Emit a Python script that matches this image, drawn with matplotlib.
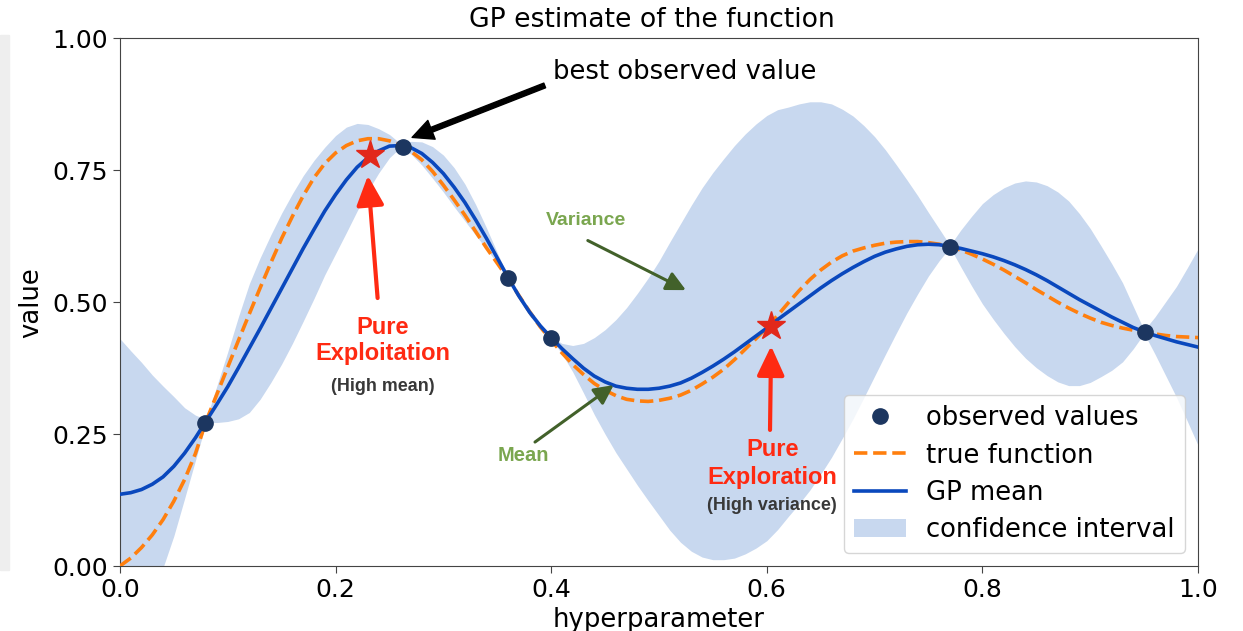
import matplotlib
matplotlib.use("Agg")
import matplotlib.pyplot as plt
from matplotlib.patches import Patch, Rectangle
from matplotlib.lines import Line2D
import numpy as np

# ---------------- data ----------------
x_grid = [0.00, 0.01, 0.02, 0.03, 0.04, 0.05, 0.06, 0.07, 0.08, 0.09,
          0.10, 0.11, 0.12, 0.13, 0.14, 0.15, 0.16, 0.17, 0.18, 0.19,
          0.20, 0.21, 0.22, 0.23, 0.24, 0.25, 0.26, 0.27, 0.28, 0.29,
          0.30, 0.31, 0.32, 0.33, 0.34, 0.35, 0.36, 0.37, 0.38, 0.39,
          0.40, 0.41, 0.42, 0.43, 0.44, 0.45, 0.46, 0.47, 0.48, 0.49,
          0.50, 0.51, 0.52, 0.53, 0.54, 0.55, 0.56, 0.57, 0.58, 0.59,
          0.60, 0.61, 0.62, 0.63, 0.64, 0.65, 0.66, 0.67, 0.68, 0.69,
          0.70, 0.71, 0.72, 0.73, 0.74, 0.75, 0.76, 0.77, 0.78, 0.79,
          0.80, 0.81, 0.82, 0.83, 0.84, 0.85, 0.86, 0.87, 0.88, 0.89,
          0.90, 0.91, 0.92, 0.93, 0.94, 0.95, 0.96, 0.97, 0.98, 0.99,
          1.00]

gp_mean = [0.136, 0.139, 0.145, 0.155, 0.169, 0.189, 0.214, 0.243, 0.275, 0.307,
           0.340, 0.376, 0.413, 0.450, 0.488, 0.526, 0.564, 0.602, 0.638, 0.673,
           0.704, 0.732, 0.756, 0.774, 0.787, 0.796, 0.797, 0.793, 0.782, 0.765,
           0.744, 0.718, 0.689, 0.656, 0.621, 0.584, 0.547, 0.512, 0.481, 0.455,
           0.433, 0.412, 0.393, 0.375, 0.360, 0.349, 0.341, 0.337, 0.335, 0.335,
           0.337, 0.341, 0.347, 0.356, 0.367, 0.379, 0.392, 0.406, 0.421, 0.436,
           0.451, 0.467, 0.482, 0.497, 0.512, 0.527, 0.541, 0.554, 0.566, 0.577,
           0.587, 0.595, 0.601, 0.606, 0.609, 0.610, 0.609, 0.606, 0.602, 0.597,
           0.592, 0.586, 0.579, 0.571, 0.562, 0.552, 0.541, 0.529, 0.517, 0.505,
           0.494, 0.483, 0.472, 0.462, 0.452, 0.444, 0.437, 0.431, 0.425, 0.420,
           0.415]

true_func = [0.000, 0.015, 0.035, 0.059, 0.088, 0.123, 0.164, 0.213, 0.275, 0.326,
             0.377, 0.428, 0.478, 0.527, 0.575, 0.621, 0.663, 0.702, 0.736, 0.763,
             0.783, 0.797, 0.806, 0.810, 0.810, 0.806, 0.798, 0.786, 0.770, 0.748,
             0.722, 0.694, 0.665, 0.634, 0.603, 0.574, 0.545, 0.513, 0.482, 0.453,
             0.428, 0.404, 0.382, 0.363, 0.346, 0.333, 0.323, 0.316, 0.313, 0.312,
             0.314, 0.318, 0.324, 0.333, 0.345, 0.358, 0.373, 0.391, 0.411, 0.431,
             0.452, 0.475, 0.499, 0.522, 0.543, 0.561, 0.576, 0.588, 0.597, 0.603,
             0.608, 0.612, 0.614, 0.615, 0.615, 0.613, 0.610, 0.605, 0.599, 0.591,
             0.582, 0.572, 0.561, 0.549, 0.537, 0.524, 0.512, 0.500, 0.489, 0.479,
             0.470, 0.462, 0.456, 0.451, 0.447, 0.443, 0.440, 0.437, 0.435, 0.434,
             0.433]

half_width = [0.295, 0.269, 0.241, 0.207, 0.172, 0.132, 0.086, 0.043, 0.003, 0.035,
              0.066, 0.097, 0.122, 0.134, 0.140, 0.143, 0.142, 0.138, 0.131, 0.121,
              0.112, 0.100, 0.083, 0.063, 0.042, 0.022, 0.004, 0.012, 0.022, 0.030,
              0.035, 0.037, 0.035, 0.029, 0.020, 0.010, 0.002, 0.005, 0.007, 0.005,
              0.002, 0.010, 0.025, 0.047, 0.073, 0.099, 0.126, 0.153, 0.182, 0.211,
              0.241, 0.273, 0.302, 0.328, 0.350, 0.367, 0.380, 0.391, 0.398, 0.402,
              0.403, 0.398, 0.388, 0.379, 0.368, 0.353, 0.335, 0.312, 0.287, 0.258,
              0.227, 0.194, 0.160, 0.126, 0.093, 0.060, 0.030, 0.002, 0.035, 0.066,
              0.095, 0.118, 0.138, 0.155, 0.168, 0.176, 0.180, 0.180, 0.175, 0.163,
              0.146, 0.124, 0.101, 0.075, 0.040, 0.003, 0.035, 0.070, 0.105, 0.145,
              0.186]

x_obs = [0.079, 0.2625, 0.360, 0.400, 0.770, 0.951]
y_obs = [0.272, 0.795, 0.546, 0.433, 0.605, 0.443]

x_star = [0.232, 0.604]
y_star = [0.780, 0.455]

x_ticks = [0.0, 0.2, 0.4, 0.6, 0.8, 1.0]
y_ticks = [0.00, 0.25, 0.50, 0.75, 1.00]

# ---------------- colours ----------------
C_BAND = '#c8d8ef'
C_MEAN = '#0a48bd'
C_TRUE = '#ff7f0e'
C_OBS = '#1c3660'
C_RED = '#ff2a12'
C_STAR = '#e2281a'
C_GREEN_TXT = '#7aa64f'
C_GREEN_ARR = '#42612a'
C_GREY_TXT = '#383838'

FS = 18.6

plt.rcParams['font.family'] = ['DejaVu Sans']

fig = plt.figure(figsize=(12.43, 6.31), dpi=100)
# grey strip at the left edge of the screenshot
fig.patches.append(Rectangle((0, 0.0967), 9 / 1243, 0.9445 - 0.0967,
                             transform=fig.transFigure, color='#eeeeee',
                             zorder=0))
ax = fig.add_axes([0.0965, 0.103, 0.8673, 0.836])

xg = np.array(x_grid)
m = np.array(gp_mean)
hw = np.array(half_width)

ax.fill_between(xg, m - hw, m + hw, color=C_BAND, lw=0, zorder=1)
ax.plot(xg, true_func, '--', color=C_TRUE, lw=2.6, zorder=3)
ax.plot(xg, m, '-', color=C_MEAN, lw=2.6, zorder=4)
ax.plot(x_obs, y_obs, 'o', color=C_OBS, ms=11, zorder=5)
ax.plot(x_star, y_star, '*', color=C_STAR, ms=21, zorder=6)

ax.set_xlim(0, 1)
ax.set_ylim(0, 1)
ax.set_xticks(x_ticks)
ax.set_yticks(y_ticks)
ax.set_xticklabels([f'{v:.1f}' for v in x_ticks])
ax.set_yticklabels([f'{v:.2f}' for v in y_ticks])
ax.tick_params(labelsize=18, length=5, color='#444444')
for s in ax.spines.values():
    s.set_color('#444444')

ax.set_title('GP estimate of the function', fontsize=19.2, pad=8, x=0.493)
ax.set_xlabel('hyperparameter', fontsize=FS, labelpad=4)
ax.set_ylabel('value', fontsize=FS, labelpad=6)

# best observed value annotation
ax.text(0.402, 0.937, 'best observed value', fontsize=FS, va='center',
        ha='left', zorder=7)
ax.annotate('', xy=(0.271, 0.8125), xytext=(0.394, 0.911),
            arrowprops=dict(facecolor='black', edgecolor='black', width=3.6,
                            headwidth=14.5, headlength=15, shrink=0.0),
            zorder=7)

# red arrows
red_arrow = dict(arrowstyle='-|>,head_length=0.9,head_width=0.42',
                 color=C_RED, lw=3, mutation_scale=20, shrinkA=0, shrinkB=0)
ax.annotate('', xy=(0.230, 0.740), xytext=(0.239, 0.508),
            arrowprops=red_arrow, zorder=7)
ax.annotate('', xy=(0.604, 0.417), xytext=(0.603, 0.258),
            arrowprops=red_arrow, zorder=7)

bold_font = ['Liberation Sans', 'DejaVu Sans']
ax.text(0.244, 0.453, 'Pure', color=C_RED, fontsize=17, fontweight='bold',
        family=bold_font, ha='center', va='center', zorder=7)
ax.text(0.244, 0.402, 'Exploitation', color=C_RED, fontsize=17,
        fontweight='bold', family=bold_font, ha='center', va='center', zorder=7)
ax.text(0.244, 0.341, '(High mean)', color=C_GREY_TXT, fontsize=12.9,
        fontweight='bold', family=bold_font, ha='center', va='center', zorder=7)

ax.text(0.605, 0.220, 'Pure', color=C_RED, fontsize=17, fontweight='bold',
        family=bold_font, ha='center', va='center', zorder=7)
ax.text(0.605, 0.167, 'Exploration', color=C_RED, fontsize=17,
        fontweight='bold', family=bold_font, ha='center', va='center', zorder=7)
ax.text(0.605, 0.114, '(High variance)', color=C_GREY_TXT, fontsize=12.9,
        fontweight='bold', family=bold_font, ha='center', va='center', zorder=7)

# green annotations
green_arrow = dict(arrowstyle='-|>,head_length=0.9,head_width=0.45',
                   color=C_GREEN_ARR, lw=2.2, mutation_scale=13,
                   shrinkA=0, shrinkB=0)
ax.text(0.432, 0.655, 'Variance', color=C_GREEN_TXT, fontsize=14,
        fontweight='bold', family=bold_font, ha='center', va='center', zorder=7)
ax.annotate('', xy=(0.525, 0.523), xytext=(0.434, 0.617),
            arrowprops=green_arrow, zorder=7)
ax.text(0.374, 0.210, 'Mean', color=C_GREEN_TXT, fontsize=14.5,
        fontweight='bold', family=bold_font, ha='center', va='center', zorder=7)
ax.annotate('', xy=(0.458, 0.343), xytext=(0.385, 0.235),
            arrowprops=green_arrow, zorder=7)

handles = [
    Line2D([], [], marker='o', ls='none', color=C_OBS, ms=11),
    Line2D([], [], ls='--', color=C_TRUE, lw=2.6),
    Line2D([], [], ls='-', color=C_MEAN, lw=2.6),
    Patch(facecolor=C_BAND, edgecolor='none'),
]
labels = ['observed values', 'true function', 'GP mean', 'confidence interval']
leg = ax.legend(handles, labels, loc='lower right', fontsize=FS,
                handlelength=2.0, borderpad=0.4, labelspacing=0.43)
leg.set_zorder(10)

fig.savefig('out.png', dpi=100)
